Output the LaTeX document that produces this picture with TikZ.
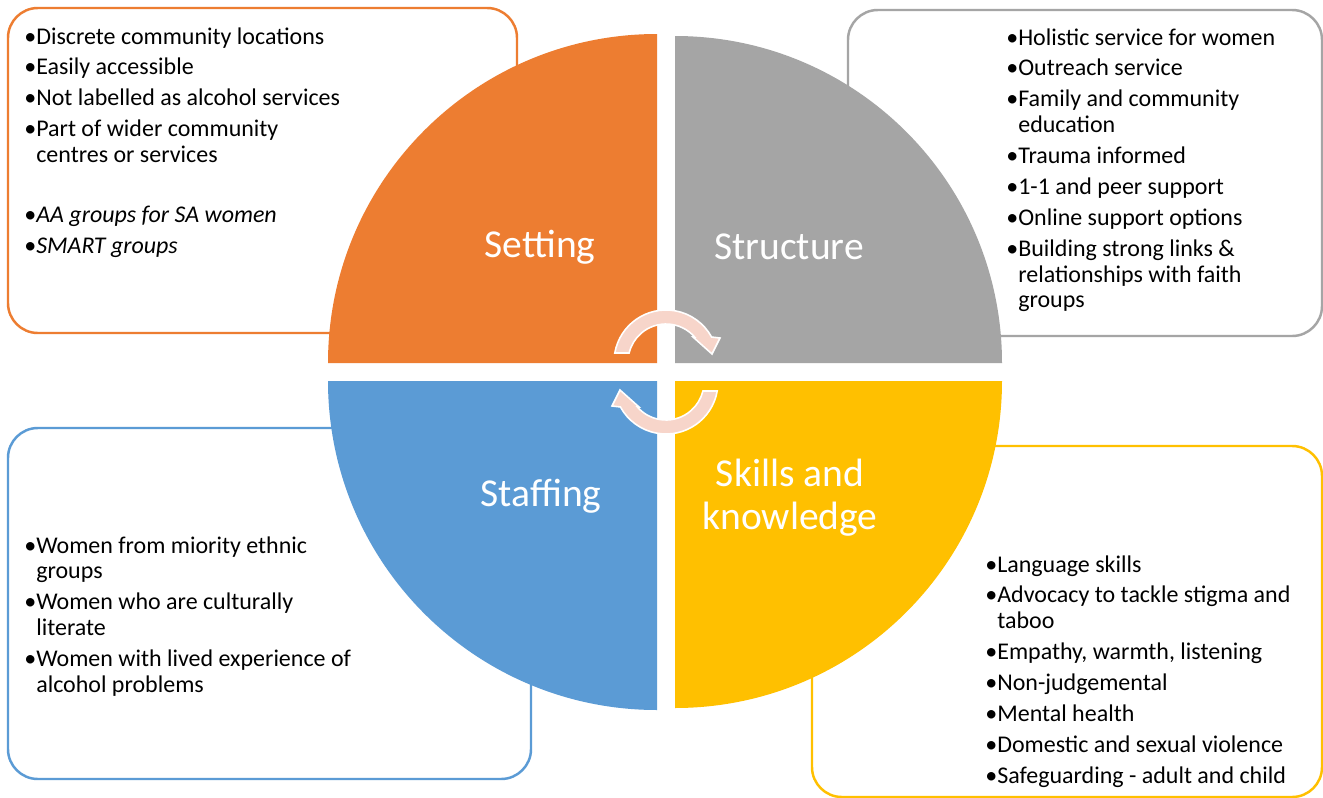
\documentclass[tikz,border=0pt]{standalone}
\usepackage{fontspec}
\setmainfont{Carlito}
\definecolor{setcol}{HTML}{ED7D31}
\definecolor{strcol}{HTML}{A5A5A5}
\definecolor{stfcol}{HTML}{5B9BD5}
\definecolor{sklcol}{HTML}{FFC000}
\definecolor{arrcol}{RGB}{247,213,202}
\newlength{\bulw}\setlength{\bulw}{6.8pt}
\newcommand{\itm}[1]{\makebox[\bulw][l]{\textbullet}#1}
\newcommand{\cnt}[1]{\hspace*{\bulw}#1}

\begin{document}
\begin{tikzpicture}[
            x = 0.02cm, y = -0.02cm,
            box/.style = {line width = 1.4pt, rounded corners = 17pt, fill = white},
            list/.style = {anchor = north west, inner sep = 0pt, align = left,
                           font = \fontsize{13.65}{14.74}\selectfont},
            quadname/.style = {text = white, align = center, inner sep = 0pt,
                               font = \fontsize{22.5}{24.4}\selectfont},
            turn/.style = {fill = arrcol, draw = white, line width = 0.9pt}
            ]
            \fill[white] (0,0) rectangle (1323,798);
            \useasboundingbox (0,0) rectangle (1323,798);
            % boxes behind the circle
            \draw[box, draw = setcol] (8,8) rectangle (517,333);
            \draw[box, draw = strcol] (848,10) rectangle (1322,336);
            \draw[box, draw = stfcol] (8,428) rectangle (531,779);
            \draw[box, draw = sklcol] (812,446) rectangle (1322,797);
            % quarters
            \fill[setcol] (657,363) -- (328,363) arc[start angle = 180, end angle = 270, radius = 329] -- cycle;
            \fill[strcol] (675,363) -- (675,36) arc[start angle = 270, end angle = 360, radius = 327] -- cycle;
            \fill[stfcol] (657,381) -- (657,710) arc[start angle = 90, end angle = 180, radius = 329] -- cycle;
            \fill[sklcol] (675,381) -- (1002,381) arc[start angle = 0, end angle = 90, radius = 327] -- cycle;
            % turning arrows
            \foreach \cx/\cy/\rot in {666/362/0, 666/382/180}
              \path[turn, shift = {(\cx,\cy)}, rotate = \rot]
                (-170:52) arc[start angle = -170, end angle = -28.7, radius = 52]
                -- (54,-24) -- (46,-8) -- (27,-25)
                -- (-41.1:38) arc[start angle = -41.1, end angle = -166.3, radius = 38] -- cycle;
            % titles
            \node[quadname] (setting) at (540,247) {Setting};
            \node[quadname] (structure) at (789,247) {Structure};
            \node[quadname] (staffing) at (541,496) {Staffing};
            \node[quadname] (skills) at (790,498) {Skills and\\knowledge};
            % lists
            \node[list] (setlist) at (24,27) {%
              \itm{Discrete community locations}\\[2.83pt]
              \itm{Easily accessible}\\[2.83pt]
              \itm{Not labelled as alcohol services}\\[2.83pt]
              \itm{Part of wider community}\\
              \cnt{centres or services}\\[19.3pt]
              \itm{\textit{AA groups for SA women}}\\[2.83pt]
              \itm{\textit{SMART groups}}};
            \node[list] (strlist) at (1006,28) {%
              \itm{Holistic service for women}\\[2.83pt]
              \itm{Outreach service}\\[2.83pt]
              \itm{Family and community}\\
              \cnt{education}\\[2.83pt]
              \itm{Trauma informed}\\[2.83pt]
              \itm{1-1 and peer support}\\[2.83pt]
              \itm{Online support options}\\[2.83pt]
              \itm{Building strong links \&}\\
              \cnt{relationships with faith}\\
              \cnt{groups}};
            \node[list] (stflist) at (24,536) {%
              \itm{Women from miority ethnic}\\
              \cnt{groups}\\[2.83pt]
              \itm{Women who are culturally}\\
              \cnt{literate}\\[2.83pt]
              \itm{Women with lived experience of}\\
              \cnt{alcohol problems}};
            \node[list] (skllist) at (985,555) {%
              \itm{Language skills}\\[2.83pt]
              \itm{Advocacy to tackle stigma and}\\
              \cnt{taboo}\\[2.83pt]
              \itm{Empathy, warmth, listening}\\[2.83pt]
              \itm{Non-judgemental}\\[2.83pt]
              \itm{Mental health}\\[2.83pt]
              \itm{Domestic and sexual violence}\\[2.83pt]
              \itm{Safeguarding - adult and child}};
          \end{tikzpicture}
\end{document}
